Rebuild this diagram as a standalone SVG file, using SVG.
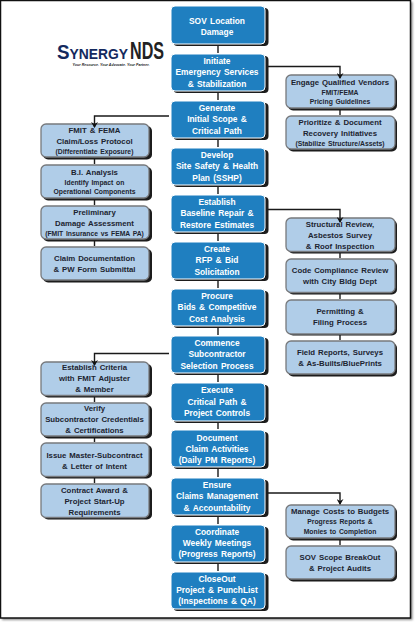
<svg xmlns="http://www.w3.org/2000/svg" width="415" height="624" viewBox="0 0 415 624">
<style>
text{font-family:"Liberation Sans",Arial,sans-serif;font-weight:700;text-anchor:middle}
.b rect{fill:#1f7fc0;stroke:#fff;stroke-width:1}
.l rect{fill:#b0cde8;stroke:#77797c;stroke-width:1.3}
.b rect.s,.l rect.s{fill:#1a1a1a;stroke:none;filter:url(#sh)}
.b text{fill:#fff;font-size:8.4px;word-spacing:1px}
.l text{fill:#1c2430;font-size:7.8px;word-spacing:0.8px}
.l .t{font-size:6.8px}
.c path{fill:none;stroke:#1a1a1a;stroke-width:1.4}
</style>
<defs>
<filter id="sh" x="-10%" y="-10%" width="120%" height="120%"><feGaussianBlur stdDeviation="0.6"/></filter>
<filter id="fs" x="-5%" y="-5%" width="110%" height="110%"><feGaussianBlur stdDeviation="1"/></filter>
<marker id="a" markerWidth="7" markerHeight="7" refX="3.5" refY="6" orient="0" viewBox="0 0 7 7" markerUnits="userSpaceOnUse"><path d="M0 1L3.500 3L7 1L3.500 7Z" fill="#111"/></marker>
</defs>
<rect width="415" height="624" fill="#fff"/>
<g id="frame"><rect x="2" y="2" width="410.500" height="618" fill="#8a8a8a" filter="url(#fs)"/><rect x="0.500" y="0.500" width="410" height="617.500" fill="#fff" stroke="#111" stroke-width="1.500"/></g>
<g id="logo">
<text x="57" y="59" textLength="71" lengthAdjust="spacingAndGlyphs" style="text-anchor:start;font-size:21px;fill:#14295e">S<tspan font-size="15.500">YNERGY</tspan></text>
<text x="130" y="59" style="text-anchor:start;font-size:23px;fill:#222" textLength="34" lengthAdjust="spacingAndGlyphs">NDS</text>
<text x="111" y="66" style="font-size:3.600px;fill:#222;font-style:italic">Your Resource. Your Advocate. Your Partner.</text>
</g>
<g id="n1" class="b"><rect class="s" x="173.500" y="8" width="95" height="38" rx="4"/><rect x="171" y="6" width="94" height="38" rx="4"/><text x="217" y="23.500">SOV Location</text><text x="217" y="35">Damage</text></g>
<g id="n2" class="b"><rect class="s" x="173.500" y="56" width="95" height="37" rx="4"/><rect x="171" y="54" width="94" height="37" rx="4"/><text x="217" y="63.500">Initiate</text><text x="217" y="75">Emergency Services</text><text x="217" y="86.500">&amp; Stabilization</text></g>
<g id="n3" class="b"><rect class="s" x="173.500" y="103" width="95" height="37" rx="4"/><rect x="171" y="101" width="94" height="37" rx="4"/><text x="217" y="110.500">Generate</text><text x="217" y="122">Initial Scope &amp;</text><text x="217" y="133.500">Critical Path</text></g>
<g id="n4" class="b"><rect class="s" x="173.500" y="150" width="95" height="37" rx="4"/><rect x="171" y="148" width="94" height="37" rx="4"/><text x="217" y="157.500">Develop</text><text x="217" y="169">Site Safety &amp; Health</text><text x="217" y="180.500">Plan (SSHP)</text></g>
<g id="n5" class="b"><rect class="s" x="173.500" y="197" width="95" height="37" rx="4"/><rect x="171" y="195" width="94" height="37" rx="4"/><text x="217" y="204.500">Establish</text><text x="217" y="216">Baseline Repair &amp;</text><text x="217" y="227.500">Restore Estimates</text></g>
<g id="n6" class="b"><rect class="s" x="173.500" y="244" width="95" height="37" rx="4"/><rect x="171" y="242" width="94" height="37" rx="4"/><text x="217" y="251.500">Create</text><text x="217" y="263">RFP &amp; Bid</text><text x="217" y="274.500">Solicitation</text></g>
<g id="n7" class="b"><rect class="s" x="173.500" y="291" width="95" height="37" rx="4"/><rect x="171" y="289" width="94" height="37" rx="4"/><text x="217" y="298.500">Procure</text><text x="217" y="310">Bids &amp; Competitive</text><text x="217" y="321.500">Cost Analysis</text></g>
<g id="n8" class="b"><rect class="s" x="173.500" y="338" width="95" height="37" rx="4"/><rect x="171" y="336" width="94" height="37" rx="4"/><text x="217" y="345.500">Commence</text><text x="217" y="357">Subcontractor</text><text x="217" y="368.500">Selection Process</text></g>
<g id="n9" class="b"><rect class="s" x="173.500" y="385" width="95" height="38" rx="4"/><rect x="171" y="383" width="94" height="38" rx="4"/><text x="217" y="393">Execute</text><text x="217" y="404.500">Critical Path &amp;</text><text x="217" y="416">Project Controls</text></g>
<g id="n10" class="b"><rect class="s" x="173.500" y="432" width="95" height="37" rx="4"/><rect x="171" y="430" width="94" height="37" rx="4"/><text x="217" y="441">Document</text><text x="217" y="452">Claim Activities</text><text x="217" y="463">(Daily PM Reports)</text></g>
<g id="n11" class="b"><rect class="s" x="173.500" y="480" width="95" height="37" rx="4"/><rect x="171" y="478" width="94" height="37" rx="4"/><text x="217" y="487.500">Ensure</text><text x="217" y="499">Claims Management</text><text x="217" y="510.500">&amp; Accountability</text></g>
<g id="n12" class="b"><rect class="s" x="173.500" y="527" width="95" height="37" rx="4"/><rect x="171" y="525" width="94" height="37" rx="4"/><text x="217" y="534.500">Coordinate</text><text x="217" y="546">Weekly Meetings</text><text x="217" y="557">(Progress Reports)</text></g>
<g id="n13" class="b"><rect class="s" x="173.500" y="574" width="95" height="37" rx="4"/><rect x="171" y="572" width="94" height="37" rx="4"/><text x="217" y="581.500">CloseOut</text><text x="217" y="593">Project &amp; PunchList</text><text x="217" y="604">(Inspections &amp; QA)</text></g>
<g id="l1" class="l"><rect class="s" x="43" y="126" width="109" height="33.500" rx="5"/><rect x="41" y="124" width="108" height="33" rx="5"/><text x="94.500" y="133">FMIT &amp; FEMA</text><text x="94.500" y="144">Claim/Loss Protocol</text><text x="94.500" y="153.500" class="t">(Differentiate Exposure)</text></g>
<g id="l2" class="l"><rect class="s" x="43" y="167" width="109" height="33.500" rx="5"/><rect x="41" y="165" width="108" height="33" rx="5"/><text x="94.500" y="175">B.I. Analysis</text><text x="94.500" y="185" class="t">Identify Impact on</text><text x="94.500" y="194" class="t">Operational Components</text></g>
<g id="l3" class="l"><rect class="s" x="43" y="208" width="109" height="33.500" rx="5"/><rect x="41" y="206" width="108" height="33" rx="5"/><text x="94.500" y="215">Preliminary</text><text x="94.500" y="226">Damage Assessment</text><text x="94.500" y="236" class="t">(FMIT Insurance vs FEMA PA)</text></g>
<g id="l4" class="l"><rect class="s" x="43" y="249" width="109" height="33.500" rx="5"/><rect x="41" y="247" width="108" height="33" rx="5"/><text x="94.500" y="261">Claim Documentation</text><text x="94.500" y="272">&amp; PW Form Submittal</text></g>
<g id="l5" class="l"><rect class="s" x="43" y="364" width="109" height="33.500" rx="5"/><rect x="41" y="362" width="108" height="33.500" rx="5"/><text x="94.500" y="370">Establish Criteria</text><text x="94.500" y="381">with FMIT Adjuster</text><text x="94.500" y="392">&amp; Member</text></g>
<g id="l6" class="l"><rect class="s" x="43" y="405" width="109" height="33.500" rx="5"/><rect x="41" y="403" width="108" height="33" rx="5"/><text x="94.500" y="411">Verify</text><text x="94.500" y="422">Subcontractor Credentials</text><text x="94.500" y="433">&amp; Certifications</text></g>
<g id="l7" class="l"><rect class="s" x="43" y="445" width="109" height="33.500" rx="5"/><rect x="41" y="443" width="108" height="33.500" rx="5"/><text x="94.500" y="458">Issue Master-Subcontract</text><text x="94.500" y="469">&amp; Letter of Intent</text></g>
<g id="l8" class="l"><rect class="s" x="43" y="486" width="109" height="33.500" rx="5"/><rect x="41" y="484" width="108" height="33.500" rx="5"/><text x="94.500" y="493">Contract Award &amp;</text><text x="94.500" y="504">Project Start-Up</text><text x="94.500" y="515">Requirements</text></g>
<g id="r1" class="l"><rect class="s" x="288" y="77" width="109" height="33.500" rx="5"/><rect x="286" y="75" width="109" height="33" rx="5"/><text x="340" y="85">Engage Qualified Vendors</text><text x="340" y="95" class="t">FMIT/FEMA</text><text x="340" y="104" class="t">Pricing Guidelines</text></g>
<g id="r2" class="l"><rect class="s" x="288" y="118" width="109" height="33.500" rx="5"/><rect x="286" y="116" width="109" height="33" rx="5"/><text x="340" y="125">Prioritize &amp; Document</text><text x="340" y="136">Recovery Initiatives</text><text x="340" y="146" class="t">(Stabilize Structure/Assets)</text></g>
<g id="r3" class="l"><rect class="s" x="288" y="220" width="109" height="33.500" rx="5"/><rect x="286" y="218" width="109" height="33.500" rx="5"/><text x="340" y="227">Structural Review,</text><text x="340" y="238">Asbestos Survey</text><text x="340" y="248.500">&amp; Roof Inspection</text></g>
<g id="r4" class="l"><rect class="s" x="288" y="261" width="109" height="33.500" rx="5"/><rect x="286" y="259" width="109" height="33.500" rx="5"/><text x="340" y="273">Code Compliance Review</text><text x="340" y="284">with City Bldg Dept</text></g>
<g id="r5" class="l"><rect class="s" x="288" y="302" width="109" height="33.500" rx="5"/><rect x="286" y="300" width="109" height="34" rx="5"/><text x="340" y="314">Permitting &amp;</text><text x="340" y="325">Filing Process</text></g>
<g id="r6" class="l"><rect class="s" x="288" y="343" width="109" height="33.500" rx="5"/><rect x="286" y="341" width="109" height="33" rx="5"/><text x="340" y="355">Field Reports, Surveys</text><text x="340" y="366">&amp; As-Builts/BluePrints</text></g>
<g id="r7" class="l"><rect class="s" x="288" y="507" width="109" height="33.500" rx="5"/><rect x="286" y="505" width="109" height="33" rx="5"/><text x="340" y="514">Manage Costs to Budgets</text><text x="340" y="524" class="t">Progress Reports &amp;</text><text x="340" y="534" class="t">Monies to Completion</text></g>
<g id="r8" class="l"><rect class="s" x="288" y="548" width="109" height="33.500" rx="5"/><rect x="286" y="546" width="109" height="33" rx="5"/><text x="340" y="560">SOV Scope BreakOut</text><text x="340" y="571">&amp; Project Audits</text></g>
<g id="connectors" class="c">
<path d="M218 46V53M218 93V100M218 140V147M218 187V194M218 234V241M218 281V288M218 328V335M218 375V382M218 423V429M218 469V477M218 517V524M218 564V571"/>
<path d="M94.500 159V164M94.500 200V205M94.500 241V246M94.500 397V402M94.500 438V442M94.500 478V483"/>
<path d="M340 110V115M340 253V258M340 294V299M340 335V340M340 540V545"/>
<path d="M266 66.500H340V78" marker-end="url(#a)"/>
<path d="M169 116H94.500V127" marker-end="url(#a)"/>
<path d="M266 209.500H340V222" marker-end="url(#a)"/>
<path d="M169 353.500H94.500V365" marker-end="url(#a)"/>
<path d="M266 493H340V504" marker-end="url(#a)"/>
</g>
</svg>
